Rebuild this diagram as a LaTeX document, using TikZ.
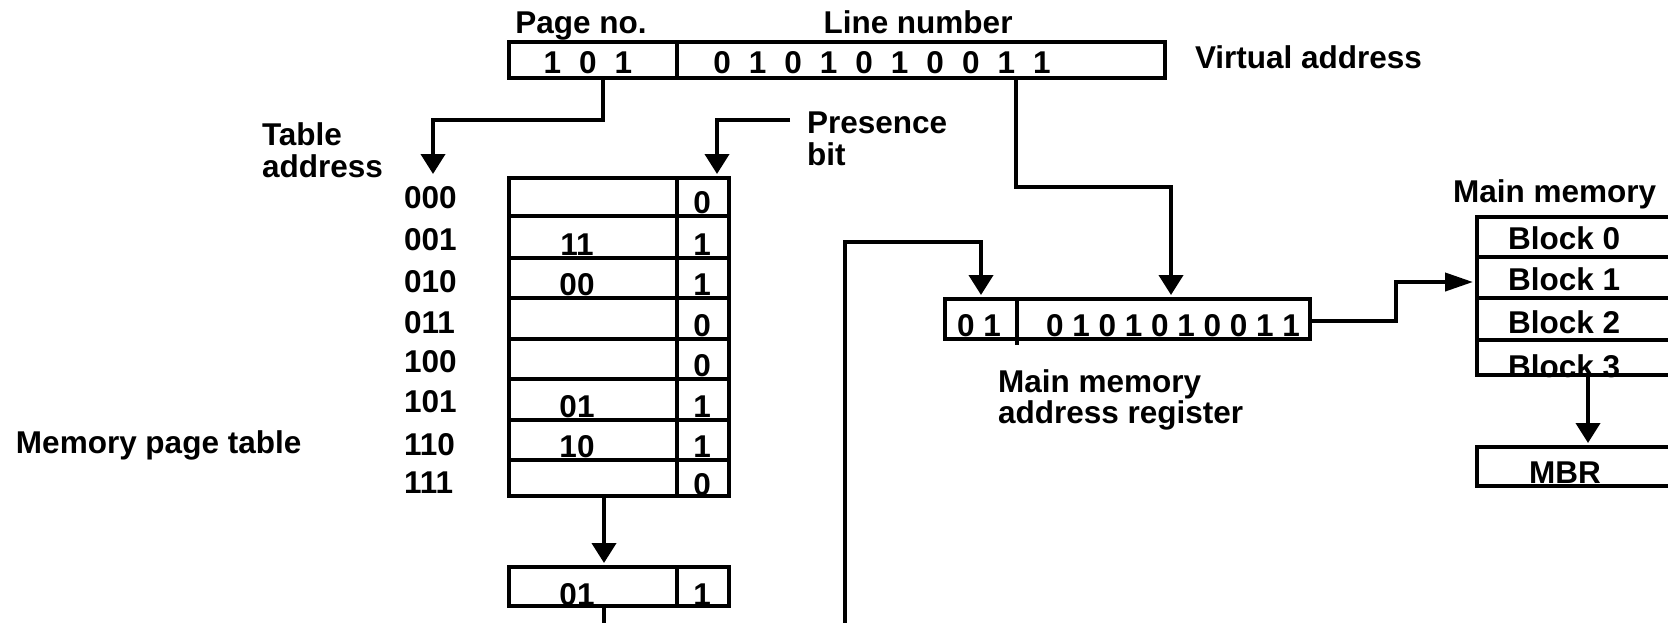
\documentclass[tikz,border=0pt]{standalone}
\usepackage{fontspec}
\setmainfont{Liberation Sans}
\usetikzlibrary{arrows.meta}
\begin{document}
\begin{tikzpicture}[x=0.5pt,y=-0.5pt,
  every node/.style={font=\fontsize{15.75pt}{18pt}\selectfont\bfseries, inner sep=0pt, outer sep=0pt},
  lbl/.style={anchor=base west},
  ctr/.style={anchor=base},
  boxx/.style={draw, line width=2pt, rectangle},
  conn/.style={line width=2pt, line join=miter},
  arr/.style={conn, -{Triangle[length=10pt,width=12pt]}, shorten >=2pt},
  arrb/.style={conn, -{Triangle[length=14pt,width=9pt]}, shorten >=2pt}]
\useasboundingbox (0,0) rectangle (1668,622);
\clip (0,0) rectangle (1668,622);

% ---------- texts ----------
\node[ctr] (tpage) at (581,33) {Page no.};
\node[ctr] (tline) at (918,33) {Line number};
\node[ctr] (vpg) at (588,73) {\spaceskip=9pt\relax 1 0 1};
\node[ctr] (vln) at (882,73) {\spaceskip=9pt\relax 0 1 0 1 0 1 0 0 1 1};
\node[lbl] (tva) at (1195,68) {Virtual address};
\node[lbl] (ttab1) at (262,145) {Table};
\node[lbl] (ttab2) at (262,177) {address};
\node[lbl] (tpb1) at (807,133) {Presence};
\node[lbl] (tpb2) at (807,165) {bit};
\node[lbl] (tmpt) at (16,453) {Memory page table};
\foreach \lab/\yy [count=\i] in {000/208,001/250,010/292,011/333,100/372,101/412,110/455,111/493}
  \node[lbl] (ra\i) at (404,\yy) {\lab};
\foreach \v/\yy [count=\i] in {11/255,00/295,01/417,10/457}
  \node[ctr] (cv\i) at (577,\yy) {\v};
\foreach \v/\yy [count=\i] in {0/213,1/255,1/295,0/336,0/376,1/417,1/457,0/495}
  \node[ctr] (pb\i) at (702,\yy) {\v};
\node[ctr] (ev) at (577,605) {01};
\node[ctr] (eb) at (702,605) {1};
\node[ctr] (mpg) at (979,336) {0 1};
\node[ctr] (mln) at (1173,336) {0 1 0 1 0 1 0 0 1 1};
\node[lbl] (tmar1) at (998,392) {Main memory};
\node[lbl] (tmar2) at (998,423) {address register};
\node[lbl] (tmm) at (1453,202) {Main memory};
\foreach \yy [count=\i from 0] in {249,290,333,377}
  \node[lbl] (blk\i) at (1508,\yy) {Block \i};
\node[ctr] (tmbr) at (1565,483) {MBR};

% ---------- boxes ----------
\node[boxx, minimum width=328pt, minimum height=18pt] (va) at (837,60) {};
\draw[conn] (677,42) -- (677,78);

\node[boxx, minimum width=110pt, minimum height=159pt] (pt) at (619,337) {};
\foreach \yy in {216,258,298,339,379,420,460}
  \draw[conn] (509,\yy) -- (729,\yy);
\draw[conn] (677,178) -- (677,496);

\node[boxx, minimum width=110pt, minimum height=19.5pt] (pte) at (619,586.5) {};
\draw[conn] (677,567) -- (677,606);

\node[boxx, minimum width=182.5pt, minimum height=20pt] (mar) at (1127.5,319) {};
\draw[conn] (1017,299) -- (1017,345);

\node[boxx, minimum width=111.5pt, minimum height=79pt] (mm) at (1588.5,296) {};
\foreach \yy in {257,298,340}
  \draw[conn] (1477,\yy) -- (1700,\yy);

\node[boxx, minimum width=111.5pt, minimum height=19.5pt] (mbr) at (1588.5,466.5) {};

% ---------- connectors ----------
\coordinate (pbend) at (790,120);
\coordinate (dn1) at (604,640);
\coordinate (dn2) at (845,640);

\draw[arr] (va.south -| 603,0) |- (433,120) -- (pt.north -| 433,0);
\draw[arr] (pbend) -| (pt.north -| 717,0);
\draw[arr] (va.south -| 1016,0) |- (1171,187) -- (mar.north -| 1171,0);
\draw[arr] (pt.south -| 604,0) -- (pte.north -| 604,0);
\draw[conn] (pte.south -| 604,0) -- (dn1);
\draw[arr] (dn2) |- (981,242) -- (mar.north -| 981,0);
\draw[arrb] (mar.east |- 0,321) -- (1396,321) |- (mm.west |- 0,282);
\draw[arr] (mm.south -| 1588,0) -- (mbr.north -| 1588,0);
\end{tikzpicture}
\end{document}
